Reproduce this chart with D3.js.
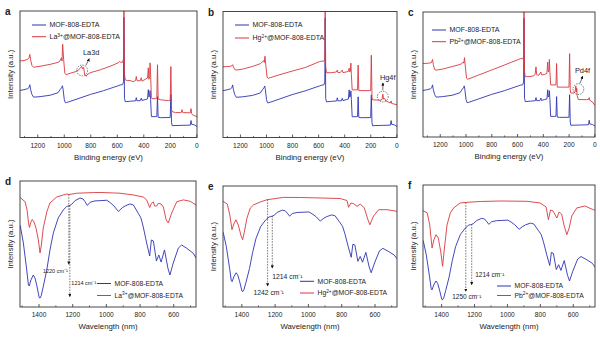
<!DOCTYPE html>
<html>
<head>
<meta charset="utf-8">
<script src="https://cdn.jsdelivr.net/npm/d3@7"></script>
<style>
body { margin: 0; background: #fff; }
text { font-family: "Liberation Sans", Arial, sans-serif; fill: #222; }
</style>
</head>
<body>
<script>
// XPS survey spectra: [binding energy (eV), intensity (a.u.)]
var xpsMof = [[1330,37.2],[1300,37.8],[1272,38.6],[1262,39.5],[1256,41.7],[1250,38],[1240,34],[1228,31.9],[1179,32.3],[1103,33.4],[1043,35.4],[1028,37.8],[1016,39.4],[1010,40.9],[1005,38],[996,30],[988,27.5],[979,27.6],[900,30.4],[800,34],[700,37],[590,40.9],[575,41.5],[556,41.8],[549,44],[546,95],[542,31],[536,28.3],[497,28.7],[458,29],[453,31.5],[448,29.1],[423,29.1],[415,31.1],[410,29.3],[385,30],[368,30.5],[362,37.8],[358,32],[352,33],[349,37],[345,30],[339,16.5],[310,16.5],[298,16.6],[293,32.3],[288,16],[272,15.7],[197,15.8],[192,33.8],[187,12],[183,9.4],[108,9.6],[45,9.8],[40,13.4],[36,10.5],[15,10],[-5,8.7]];
var xpsLa = [[1330,60.6],[1300,60.8],[1272,61.8],[1262,63],[1256,65.7],[1250,61.4],[1240,57],[1228,55.5],[1179,56.3],[1103,57.8],[1043,59.4],[1028,60.6],[1018,63],[1013,60.5],[1008,73.7],[1001,62],[992,51],[982,49.6],[952,50.8],[914,51.9],[892,53.1],[876,54.7],[865,56.3],[858,54.3],[850,55.5],[842,49.6],[831,48.4],[824,49.6],[801,51.2],[725,53.5],[650,56.3],[590,59],[578,60.2],[570,59.4],[556,59.5],[549,62],[546,104],[542,50],[536,45.6],[521,45],[497,45],[476,44.1],[458,45],[453,48.2],[448,45],[442,44.9],[423,44.9],[415,47.2],[410,44.5],[404,44.9],[385,46],[368,47],[362,55.1],[358,46],[352,48],[349,59],[345,50],[339,31.5],[335,30.7],[310,30.7],[298,31],[293,57.5],[288,30.5],[272,29.9],[211,29.1],[197,29.5],[192,56.1],[187,22],[183,20.5],[158,19.7],[121,19.7],[112,20],[108,22],[104,19.8],[98,19.7],[45,19.5],[40,22.8],[36,19],[30,18],[15,17.3],[-5,16.5]];
var xpsHg = [[1330,56.1],[1300,56.3],[1272,56.5],[1262,57],[1256,57.8],[1250,56],[1240,54],[1228,53.5],[1179,54.3],[1103,56.4],[1043,58.6],[1028,60],[1018,61],[1013,59.5],[1008,64.5],[1001,57],[992,48],[982,47],[900,49.7],[800,52.7],[700,55.5],[590,60.2],[575,60.6],[556,60.6],[549,62],[546,104],[542,56],[536,51.4],[500,51.4],[460,52],[453,53.5],[448,51.5],[430,51.6],[415,53.5],[410,51.5],[385,52],[368,52.5],[362,55],[358,52],[352,53],[349,59],[345,50],[339,37.8],[298,37.8],[293,57.5],[288,37.2],[197,37.2],[192,65.3],[187,32],[183,29.9],[125,29.6],[110,30],[104,34.4],[98,30.5],[90,31],[80,29],[60,28],[45,27.5],[40,29],[36,27],[15,26.5],[-5,26]];
var xpsPb = [[1330,58.8],[1290,59],[1265,59.5],[1256,62],[1250,58],[1240,54],[1228,53.5],[1179,54.3],[1103,56.4],[1043,58],[1028,58.8],[1018,60],[1013,59],[1008,63.5],[1001,56],[992,47],[982,46.2],[900,49.5],[800,53.5],[700,57.5],[590,62],[575,62.7],[556,62.7],[549,64],[546,104],[542,52],[536,48.2],[500,48.4],[470,49],[460,50],[453,56.1],[448,50],[440,49.5],[430,49.5],[415,52],[410,49.7],[385,50],[368,51],[362,60],[358,52],[352,53],[349,62],[345,52],[339,41.7],[298,41.7],[293,58.8],[288,39.9],[197,39.9],[192,66.7],[187,38],[183,35.2],[160,35.2],[150,36],[144,40.9],[140,36],[137,39],[133,33],[125,30],[60,29.9],[45,30],[40,31.5],[36,29.5],[15,28],[-5,25.2]];
var xpsTicks = [1200, 1000, 800, 600, 400, 200, 0];
var xpsMinor = [1300, 1100, 900, 700, 500, 300, 100];

// FTIR spectra: [wavenumber, transmittance (a.u.)]
var irMof = [[1510,65],[1506,62.7],[1490,50.8],[1470,29.4],[1460,17.5],[1455,16.7],[1445,21.4],[1431,25.4],[1421,23],[1411,17.5],[1396,7.5],[1391,7.1],[1384,9],[1372,16.1],[1351,29.4],[1332,45.3],[1312,58.8],[1283,70.7],[1253,77],[1233,79.8],[1223,80.2],[1214,80.6],[1203,81.5],[1183,84.4],[1154,86.5],[1136,85.8],[1124,83.6],[1110,80.6],[1094,83.1],[1065,84.2],[1035,84.4],[995,84.7],[976,83],[952,80.2],[926,75.8],[904,78.6],[886,80.2],[857,81.8],[837,81],[808,74.4],[792,70.7],[778,63.5],[758,50.8],[740,40.5],[730,53.2],[718,52.4],[700,36.5],[686,41.3],[672,35.7],[652,45.3],[632,31],[620,25.4],[600,34.9],[570,46.8],[550,49.2],[520,46.6],[481,42.6],[465,38.9]];
var irLa = [[1510,87],[1506,86.5],[1480,83.6],[1468,77],[1460,67.5],[1454,63.1],[1445,67.5],[1437,69.5],[1427,67.5],[1415,62.7],[1401,53.2],[1391,42.9],[1383,49.2],[1372,62.7],[1351,75.4],[1332,82.6],[1292,87.3],[1233,89.7],[1219,89.3],[1173,90.3],[1075,90.8],[1035,90.9],[916,90.3],[837,88.9],[778,87.3],[758,85],[740,79],[730,82.2],[718,83.4],[711,80.2],[698,80.2],[689,82.3],[673,81.8],[659,79.4],[642,69.1],[630,66.7],[609,74.6],[579,83.6],[540,85],[500,83.9],[465,81]];
var irHg = [[1510,95.1],[1484,92.4],[1469,81.7],[1456,67.4],[1445,72.9],[1432,77.1],[1418,71.9],[1403,62.2],[1392,57.6],[1382,65.1],[1366,78.8],[1346,88.5],[1326,91.7],[1286,94.4],[1246,96.6],[1146,98.9],[1046,98.8],[926,98.3],[806,97.8],[765,95.8],[756,89.2],[742,93.4],[727,92.9],[705,90.2],[685,92.4],[661,88.5],[643,78.8],[628,72.2],[606,80.7],[575,86.9],[525,86.9],[465,85.3]];
var irPb = [[1510,94],[1484,91.7],[1469,80],[1455,57.6],[1444,65.4],[1431,70.5],[1417,67.3],[1402,53.7],[1391,39.7],[1381,55.6],[1364,80],[1344,91.7],[1324,96.6],[1284,101.5],[1243,102.1],[1163,102.9],[1041,103.4],[879,103.1],[799,101.5],[762,97.6],[748,85.2],[735,94.6],[720,93.7],[697,86.8],[683,92.7],[668,90.7],[652,79],[636,70.5],[622,77.1],[606,88.8],[576,96.6],[526,98.5],[475,94.9],[465,94.6]];
var irTicks = [1400, 1200, 1000, 800, 600];
var irMinor = [1500, 1300, 1100, 900, 700, 500];

// legend names: [base, superscript, rest]
var mofName = ["MOF-808-EDTA", "", ""];
var laName = ["La", "3+", "@MOF-808-EDTA"];
var hgName = ["Hg", "2+", "@MOF-808-EDTA"];
var pbName = ["Pb", "2+", "@MOF-808-EDTA"];

// XPS peak call-outs: circle at [eV, I], label at [eV, I], arrow from/to
var peakLa = {text: "La3d", at: [861, 53], label: [793, 67.3], from: [833, 57], to: [808, 62.2]};
var peakHg = {text: "Hg4f", at: [104, 32.5], label: [66, 47.5], from: [104, 37.5], to: [103, 43.3]};
var peakPb = {text: "Pd4f", at: [124, 38.3], label: [92, 53.5], from: [111, 42.9], to: [91, 48.6]};

// FTIR band markers: wavenumber, dashed from/to intensity
var bandsLa = [
  {wn: 1220, from: 89.3, to: 34, text: "1220 cm\u207B\u00B9", anchor: "end", dx: -1, dy: 8.5},
  {wn: 1214, from: 80.6, to: 8.3, text: "1214 cm\u207B\u00B9", anchor: "start", dx: 1.5, dy: -11.3}
];
var bandsHg = [
  {wn: 1242, from: 96.8, to: 12.5, text: "1242 cm\u207B\u00B9", anchor: "middle", dx: 1, dy: 9.3},
  {wn: 1214, from: 80.8, to: 30, text: "1214 cm\u207B\u00B9", anchor: "start", dx: 0, dy: 10.5}
];
var bandsPb = [
  {wn: 1250, from: 102, to: 15.3, text: "1250 cm\u207B\u00B9", anchor: "middle", dx: 1, dy: 7.3},
  {wn: 1214, from: 80.8, to: 21.8, text: "1214 cm\u207B\u00B9", anchor: "start", dx: 3.5, dy: -7.7}
];

var blue = "#2c33b3";
var red = "#d8393d";

var panels = [
  {id: "a", left: 20, right: 197, top: 11, bottom: 137.5, xDom: [1330, -5], yDom: [0, 100],
   mof: xpsMof, ion: xpsLa, ionName: laName, ticks: xpsTicks, minor: xpsMinor, xTitle: "Binding energy (eV)",
   leg: {x: 32, y: 25, gap: 11.7, size: 7}, peak: peakLa},
  {id: "b", left: 223, right: 397, top: 11.5, bottom: 137.5, xDom: [1330, -5], yDom: [0, 100],
   mof: xpsMof, ion: xpsHg, ionName: hgName, ticks: xpsTicks, minor: xpsMinor, xTitle: "Binding energy (eV)",
   leg: {x: 235, y: 25, gap: 13, size: 7}, peak: peakHg},
  {id: "c", left: 423, right: 595, top: 12, bottom: 137, xDom: [1330, -5], yDom: [0, 100],
   mof: xpsMof, ion: xpsPb, ionName: pbName, ticks: xpsTicks, minor: xpsMinor, xTitle: "Binding energy (eV)",
   leg: {x: 432, y: 30, gap: 11.7, size: 7}, peak: peakPb},
  {id: "d", left: 20, right: 196, top: 181, bottom: 307, xDom: [1510, 465], yDom: [0, 100],
   mof: irMof, ion: irLa, ionName: laName, ticks: irTicks, minor: irMinor, xTitle: "Wavelength (nm)",
   leg: {x: 97, y: 283.5, gap: 12, size: 6.8}, bands: bandsLa, bandSize: 5.5},
  {id: "e", left: 223, right: 397, top: 186, bottom: 307, xDom: [1510, 465], yDom: [-8, 110],
   mof: irMof, ion: irHg, ionName: hgName, ticks: irTicks, minor: irMinor, xTitle: "Wavelength (nm)",
   leg: {x: 300, y: 281.3, gap: 11.7, size: 6.8}, bands: bandsHg, bandSize: 6.8},
  {id: "f", left: 423, right: 595, top: 185, bottom: 307, xDom: [1510, 465], yDom: [0, 119],
   mof: irMof, ion: irPb, ionName: pbName, ticks: irTicks, minor: irMinor, xTitle: "Wavelength (nm)",
   leg: {x: 497, y: 286, gap: 9.5, size: 6.8}, bands: bandsPb, bandSize: 6.5}
];

var svg = d3.select("body").append("svg")
  .attr("width", 600)
  .attr("height", 337);

var defs = svg.append("defs");
defs.append("marker")
  .attr("id", "tip")
  .attr("viewBox", "0 0 6 6")
  .attr("refX", 5).attr("refY", 3)
  .attr("markerWidth", 3.2).attr("markerHeight", 3.2)
  .attr("markerUnits", "userSpaceOnUse")
  .attr("orient", "auto")
  .append("path")
  .attr("d", "M0,0L6,3L0,6Z")
  .attr("fill", "#111");

panels.forEach(drawPanel);

function drawPanel(p) {
  var g = svg.append("g");
  var x = d3.scaleLinear().domain(p.xDom).range([p.left, p.right]);
  var y = d3.scaleLinear().domain(p.yDom).range([p.bottom, p.top]);

  defs.append("clipPath").attr("id", "clip-" + p.id)
    .append("rect")
    .attr("x", p.left).attr("y", p.top)
    .attr("width", p.right - p.left).attr("height", p.bottom - p.top);

  var line = d3.line().x(function(d) { return x(d[0]); }).y(function(d) { return y(d[1]); });

  var plot = g.append("g").attr("clip-path", "url(#clip-" + p.id + ")");
  plot.append("path").datum(p.mof)
    .attr("d", line).attr("fill", "none")
    .attr("stroke", blue).attr("stroke-width", 0.9).attr("stroke-linejoin", "round");
  plot.append("path").datum(p.ion)
    .attr("d", line).attr("fill", "none")
    .attr("stroke", red).attr("stroke-width", 0.9).attr("stroke-linejoin", "round");

  // frame
  g.append("rect")
    .attr("x", p.left).attr("y", p.top)
    .attr("width", p.right - p.left).attr("height", p.bottom - p.top)
    .attr("fill", "none").attr("stroke", "#333").attr("stroke-width", 0.9);

  // bottom axis, ticks pointing inwards
  var ax = g.append("g").attr("transform", "translate(0," + p.bottom + ")")
    .call(d3.axisBottom(x).tickValues(p.ticks).tickSize(-3).tickPadding(5.5).tickFormat(d3.format("d")));
  ax.select(".domain").remove();
  ax.selectAll(".tick line").attr("stroke", "#333").attr("stroke-width", 0.8);
  ax.selectAll(".tick text").attr("font-size", 6.6).attr("font-family", "Liberation Sans, Arial, sans-serif").attr("fill", "#222");

  var mx = g.append("g").attr("transform", "translate(0," + p.bottom + ")")
    .call(d3.axisBottom(x).tickValues(p.minor).tickSize(-1.6).tickFormat(""));
  mx.select(".domain").remove();
  mx.selectAll(".tick line").attr("stroke", "#333").attr("stroke-width", 0.7);

  g.append("text")
    .attr("x", (p.left + p.right) / 2).attr("y", p.bottom + 22)
    .attr("text-anchor", "middle").attr("font-size", 7.8)
    .text(p.xTitle);

  g.append("text")
    .attr("transform", "translate(" + (p.left - 10) + "," + ((p.top + p.bottom) / 2) + ") rotate(-90)")
    .attr("text-anchor", "middle").attr("dy", "0.35em").attr("font-size", 7.8)
    .text("Intensity (a.u.)");

  g.append("text")
    .attr("x", p.left - 15).attr("y", p.top + 4)
    .attr("font-size", 10).attr("font-weight", "bold").attr("fill", "#111")
    .text(p.id);

  drawLegend(g, p);
  if (p.peak) drawPeak(g, p.peak, x, y);
  if (p.bands) drawBands(g, p, x, y);
}

function drawLegend(g, p) {
  var rows = [[blue, mofName], [red, p.ionName]];
  rows.forEach(function(r, i) {
    var ly = p.leg.y + i * p.leg.gap;
    g.append("line")
      .attr("x1", p.leg.x).attr("x2", p.leg.x + 14)
      .attr("y1", ly).attr("y2", ly)
      .attr("stroke", r[0]).attr("stroke-width", 1);
    var t = g.append("text")
      .attr("x", p.leg.x + 17.5).attr("y", ly)
      .attr("dy", "0.35em").attr("font-size", p.leg.size);
    t.append("tspan").text(r[1][0]);
    if (r[1][1]) {
      t.append("tspan").attr("dy", -2.6).attr("font-size", p.leg.size * 0.7).text(r[1][1]);
      t.append("tspan").attr("dy", 2.6).text(r[1][2]);
    }
  });
}

function drawPeak(g, pk, x, y) {
  g.append("circle")
    .attr("cx", x(pk.at[0])).attr("cy", y(pk.at[1])).attr("r", 5.4)
    .attr("fill", "none").attr("stroke", "#222").attr("stroke-width", 0.6)
    .attr("stroke-dasharray", "1.4,1.1");
  g.append("line")
    .attr("x1", x(pk.from[0])).attr("y1", y(pk.from[1]))
    .attr("x2", x(pk.to[0])).attr("y2", y(pk.to[1]))
    .attr("stroke", "#111").attr("stroke-width", 0.6)
    .attr("marker-end", "url(#tip)");
  g.append("text")
    .attr("x", x(pk.label[0])).attr("y", y(pk.label[1]))
    .attr("dy", "0.35em").attr("text-anchor", "middle").attr("font-size", 7.4)
    .text(pk.text);
}

function drawBands(g, p, x, y) {
  p.bands.forEach(function(b) {
    var bx = x(b.wn);
    g.append("line")
      .attr("x1", bx).attr("x2", bx)
      .attr("y1", y(b.from)).attr("y2", y(b.to))
      .attr("stroke", "#222").attr("stroke-width", 0.6)
      .attr("stroke-dasharray", "1.6,1.2")
      .attr("marker-end", "url(#tip)");
    g.append("text")
      .attr("x", bx + b.dx).attr("y", y(b.to) + b.dy)
      .attr("text-anchor", b.anchor).attr("font-size", p.bandSize)
      .text(b.text);
  });
}
</script>
</body>
</html>
